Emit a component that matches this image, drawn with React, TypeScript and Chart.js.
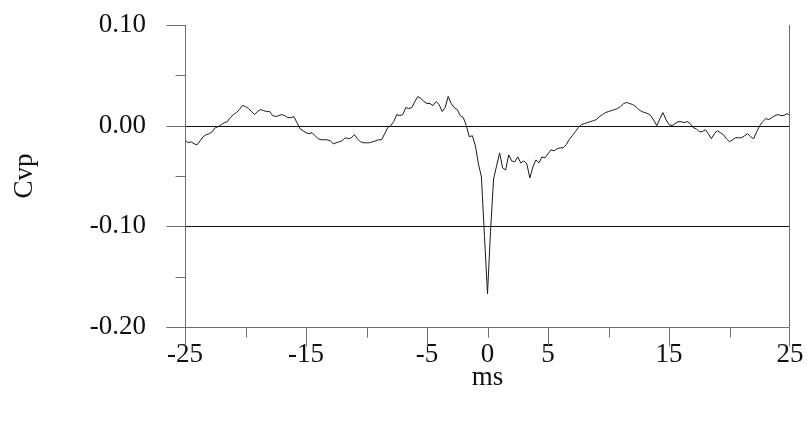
import React, { useEffect, useRef } from "react";
import { Chart, registerables } from "chart.js";

Chart.register(...registerables);

// Sampling grid of the cross-correlogram (ms)
const timeStartMs = -25;
const timeStepMs = 0.25;

// Cvp values, one per 0.25 ms from -25 to 25
const cvpValues = [
  -0.014, -0.017, -0.016, -0.018, -0.019, -0.015, -0.011, -0.009,
  -0.008, -0.006, -0.002, -0.001, 0.001, 0.003, 0.004, 0.008,
  0.011, 0.013, 0.016, 0.02, 0.019, 0.017, 0.014, 0.011,
  0.014, 0.016, 0.015, 0.014, 0.014, 0.01, 0.009, 0.01,
  0.011, 0.01, 0.008, 0.008, 0.009, 0.003, -0.003, -0.005,
  -0.007, -0.008, -0.007, -0.01, -0.013, -0.014, -0.014, -0.014,
  -0.015, -0.018, -0.017, -0.016, -0.015, -0.012, -0.013, -0.012,
  -0.009, -0.013, -0.016, -0.017, -0.017, -0.017, -0.016, -0.015,
  -0.014, -0.014, -0.008, -0.002, 0.0, 0.004, 0.011, 0.01,
  0.011, 0.018, 0.017, 0.018, 0.024, 0.029, 0.027, 0.024,
  0.022, 0.022, 0.02, 0.024, 0.021, 0.014, 0.018, 0.029,
  0.022, 0.018, 0.016, 0.01, 0.008, 0.0, -0.011, -0.01,
  -0.02, -0.038, -0.051, -0.11, -0.167, -0.105, -0.053, -0.04,
  -0.027, -0.042, -0.044, -0.029, -0.035, -0.036, -0.031, -0.037,
  -0.035, -0.038, -0.052, -0.041, -0.034, -0.037, -0.031, -0.032,
  -0.028, -0.024, -0.025, -0.023, -0.022, -0.022, -0.019, -0.014,
  -0.01, -0.006, -0.002, 0.001, 0.002, 0.003, 0.004, 0.005,
  0.006, 0.009, 0.011, 0.013, 0.014, 0.015, 0.016, 0.017,
  0.019, 0.022, 0.023, 0.022, 0.021, 0.019, 0.016, 0.014,
  0.013, 0.012, 0.01, 0.005, 0.0, 0.007, 0.013, 0.006,
  0.001, 0.0, 0.002, 0.004, 0.004, 0.003, 0.004, 0.002,
  -0.002, -0.003, -0.006, -0.006, -0.004, -0.008, -0.013, -0.008,
  -0.005, -0.007, -0.009, -0.013, -0.016, -0.014, -0.012, -0.012,
  -0.012, -0.01, -0.008, -0.011, -0.013, -0.006, 0.0, 0.004,
  0.007, 0.006, 0.008, 0.01, 0.011, 0.01, 0.01, 0.012,
  0.01,
];

// Axis ticks
const xLabeledTicks = [-25, -15, -5, 0, 5, 15, 25];
const xLongTicks = [-25, -15, -5, 5, 15, 25];
const yLabeledTicks = [0.1, 0, -0.1, -0.2];
const yReferenceLines = [0, -0.1];

const FONT = "'Liberation Serif', 'Times New Roman', serif";
const FONT_SIZE = 27;
const AXIS_COLOR = "#6e6e6e";

const near = (a: number, list: number[]) => list.some((v) => Math.abs(v - a) < 1e-6);

const axesPlugin = {
  id: "classicAxes",
  beforeDatasetsDraw(chart: any) {
    const { ctx, chartArea, scales } = chart;
    ctx.save();
    ctx.strokeStyle = "#111";
    ctx.lineWidth = 1;
    yReferenceLines.forEach((v) => {
      const y = Math.round(scales.y.getPixelForValue(v)) + 0.5;
      ctx.beginPath();
      ctx.moveTo(chartArea.left, y);
      ctx.lineTo(chartArea.right, y);
      ctx.stroke();
    });
    ctx.restore();
  },
  afterDraw(chart: any) {
    const { ctx, chartArea, scales } = chart;
    const left = Math.round(chartArea.left) + 0.5;
    const right = Math.round(chartArea.right) - 0.5;
    const top = Math.round(chartArea.top);
    const bottom = Math.round(chartArea.bottom) + 0.5;
    const longTick = 19;
    const shortTick = 10;
    ctx.save();
    ctx.strokeStyle = AXIS_COLOR;
    ctx.lineWidth = 1;
    ctx.beginPath();
    // left axis
    ctx.moveTo(left, top);
    ctx.lineTo(left, bottom);
    // right border
    ctx.moveTo(right, top);
    ctx.lineTo(right, bottom);
    // bottom axis
    ctx.moveTo(left - longTick, bottom);
    ctx.lineTo(right, bottom);
    // y ticks
    scales.y.ticks.forEach((t: any) => {
      const y = Math.round(scales.y.getPixelForValue(t.value)) + 0.5;
      const len = near(t.value, yLabeledTicks) ? longTick : shortTick;
      ctx.moveTo(left - len, y);
      ctx.lineTo(left, y);
    });
    // x ticks
    scales.x.ticks.forEach((t: any) => {
      let x = Math.round(scales.x.getPixelForValue(t.value)) + 0.5;
      if (x > right) x = right;
      const len = near(t.value, xLongTicks) ? longTick : shortTick;
      ctx.moveTo(x, bottom);
      ctx.lineTo(x, bottom + len);
    });
    ctx.stroke();
    ctx.restore();
  },
};

export default function App() {
  const canvasRef = useRef<HTMLCanvasElement | null>(null);

  useEffect(() => {
    if (!canvasRef.current) return;
    const points = cvpValues.map((v, i) => ({ x: timeStartMs + i * timeStepMs, y: v }));
    const chart = new Chart(canvasRef.current, {
      type: "line",
      data: {
        datasets: [
          {
            data: points,
            borderColor: "#1a1a1a",
            borderWidth: 1,
            pointRadius: 0,
            tension: 0,
            fill: false,
          },
        ],
      },
      options: {
        animation: false,
        responsive: false,
        maintainAspectRatio: false,
        layout: { padding: { left: 0, top: 25, right: 17, bottom: 0 } },
        plugins: {
          legend: { display: false },
          tooltip: { enabled: false },
        },
        scales: {
          x: {
            type: "linear",
            min: -25,
            max: 25,
            grid: { display: false, drawTicks: false },
            border: { display: false },
            afterFit: (scale: any) => {
              scale.height = 99;
              scale.paddingLeft = 0;
              scale.paddingRight = 0;
            },
            ticks: {
              stepSize: 5,
              autoSkip: false,
              maxRotation: 0,
              padding: 14,
              color: "#111",
              font: { family: FONT, size: FONT_SIZE, lineHeight: 1 },
              callback: (v: any) => (near(Number(v), xLabeledTicks) ? String(Math.round(Number(v))) : ""),
            },
            title: {
              display: true,
              text: "ms",
              color: "#111",
              font: { family: FONT, size: FONT_SIZE, lineHeight: 1 },
              padding: { top: 0, bottom: 35 },
            },
          },
          y: {
            min: -0.2,
            max: 0.1,
            grid: { display: false, drawTicks: false },
            border: { display: false },
            afterFit: (scale: any) => {
              scale.width = 185;
              scale.paddingTop = 0;
              scale.paddingBottom = 0;
            },
            ticks: {
              stepSize: 0.05,
              autoSkip: false,
              padding: 39,
              color: "#111",
              font: { family: FONT, size: FONT_SIZE, lineHeight: 1 },
              callback: (v: any) => (near(Number(v), yLabeledTicks) ? Number(v).toFixed(2) : ""),
            },
            title: {
              display: true,
              text: "Cvp",
              color: "#111",
              font: { family: FONT, size: FONT_SIZE, lineHeight: 1 },
              padding: { top: 11, bottom: 0 },
            },
          },
        },
      },
      plugins: [axesPlugin],
    });
    return () => chart.destroy();
  }, []);

  return (
    <div style={{ position: "fixed", left: 0, top: 0, width: 807, height: 426, background: "#fff" }}>
      <canvas ref={canvasRef} width={807} height={426} style={{ width: 807, height: 426, display: "block" }} />
    </div>
  );
}
